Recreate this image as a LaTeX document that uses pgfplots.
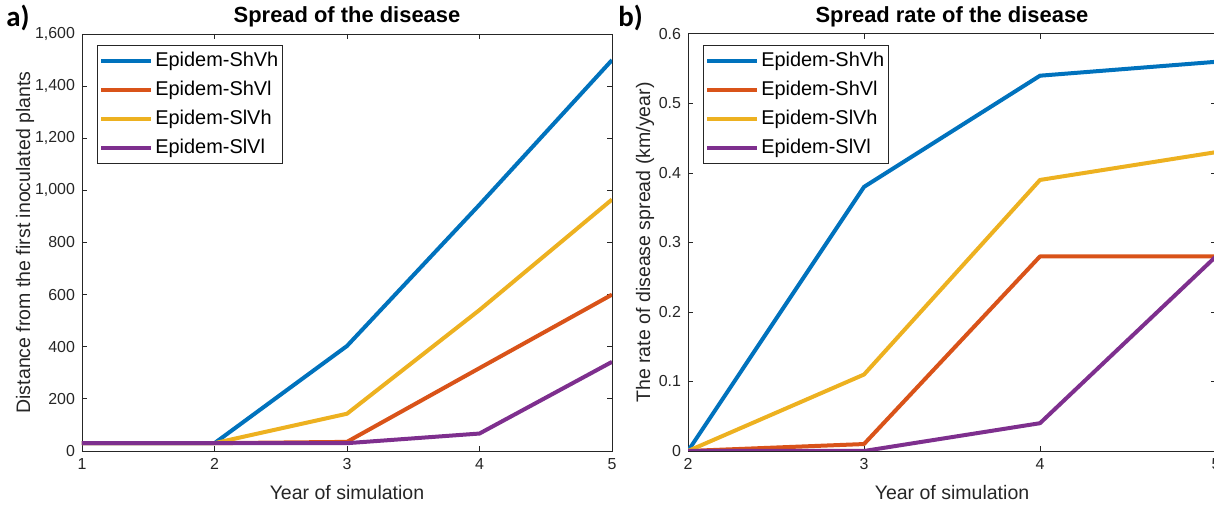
\documentclass[border=0pt]{standalone}
\usepackage{fontspec}
\setmainfont{Liberation Sans}
\newfontfamily\labfont{Carlito}
\usepackage{pgfplots}
\pgfplotsset{compat=1.18}
\definecolor{mblue}{rgb}{0,0.447,0.741}
\definecolor{morange}{rgb}{0.85,0.325,0.098}
\definecolor{myellow}{rgb}{0.929,0.694,0.125}
\definecolor{mpurple}{rgb}{0.494,0.184,0.556}
\definecolor{axgray}{rgb}{0.15,0.15,0.15}
\pgfplotsset{mystyle/.style={
  scale only axis, height=208.5bp,
  axis line style={axgray, line width=0.5pt},
  tick style={axgray, line width=0.5pt},
  tick align=inside, major tick length=2.5bp,
  ticklabel style={font=\fontsize{8}{9}\selectfont, text=axgray},
  /pgf/number format/assume math mode=true,
  label style={font=\fontsize{9.8}{11}\selectfont, text=axgray},
  every axis title shift=0pt,
  title style={font=\fontsize{11}{13}\selectfont\bfseries, at={(axis description cs:0.5,1.041)}, anchor=center},
  xlabel style={at={(axis description cs:0.5,-0.1007)}, anchor=center},
  legend style={draw=axgray, line width=0.5pt, font=\fontsize{10}{12}\selectfont,
    at={(axis description cs:0.028,0.974)}, anchor=north west,
    inner xsep=1bp, inner ysep=2.5bp, row sep=3.8bp, cells={anchor=west},
    nodes={inner xsep=1bp, inner ysep=1bp}},
  legend image code/.code={\draw[#1,line width=2bp] (0bp,0bp) -- (25bp,0bp);},
  every axis plot/.append style={line width=2bp, line join=round},
  scaled ticks=false,
  ymin=0,
}}
\begin{document}
\begin{tikzpicture}
\path[use as bounding box] (0,0) rectangle (607bp,253bp);
\begin{axis}[mystyle, width=265bp, at={(41bp,27.5bp)}, anchor=south west,
  xmin=1, xmax=5, xtick={1,2,3,4,5},
  ymax=1600, ytick={0,200,...,1600},
  /pgf/number format/1000 sep={,},
  title={Spread of the disease},
  xlabel={Year of simulation},
  ylabel={Distance from the first inoculated plants},
  ylabel style={at={(axis description cs:-0.1075,0.5)}, anchor=center},
]
\addplot[mblue] coordinates {(1,30) (2,30) (3,403) (4,945) (5,1500)};
\addplot[morange] coordinates {(1,30) (2,30) (3,35) (4,318) (5,600)};
\addplot[myellow] coordinates {(1,30) (2,30) (3,143) (4,541) (5,965)};
\addplot[mpurple] coordinates {(1,30) (2,30) (3,30) (4,67) (5,342)};
\legend{Epidem-ShVh,Epidem-ShVl,Epidem-SlVh,Epidem-SlVl}
\end{axis}
\begin{axis}[mystyle, width=264bp, at={(344bp,27.5bp)}, anchor=south west,
  xmin=2, xmax=5, xtick={2,3,4,5},
  ymax=0.6, ytick={0,0.1,...,0.6},
  yticklabel style={/pgf/number format/.cd, fixed, precision=1},
  title={Spread rate of the disease},
  xlabel={Year of simulation},
  ylabel={The rate of disease spread (km/year)},
  ylabel style={at={(axis description cs:-0.0813,0.5)}, anchor=center},
]
\addplot[mblue] coordinates {(2,0) (3,0.38) (4,0.54) (5,0.56)};
\addplot[morange] coordinates {(2,0) (3,0.01) (4,0.28) (5,0.28)};
\addplot[myellow] coordinates {(2,0) (3,0.11) (4,0.39) (5,0.43)};
\addplot[mpurple] coordinates {(2,0) (3,0) (4,0.04) (5,0.28)};
\legend{Epidem-ShVh,Epidem-ShVl,Epidem-SlVh,Epidem-SlVl}
\end{axis}
\node[anchor=west, font=\labfont\bfseries\fontsize{14.5}{16}\selectfont, inner sep=0pt] at (3bp,244bp) {a)};
\node[anchor=west, font=\labfont\bfseries\fontsize{14.5}{16}\selectfont, inner sep=0pt] at (309bp,244bp) {b)};
\end{tikzpicture}
\end{document}
